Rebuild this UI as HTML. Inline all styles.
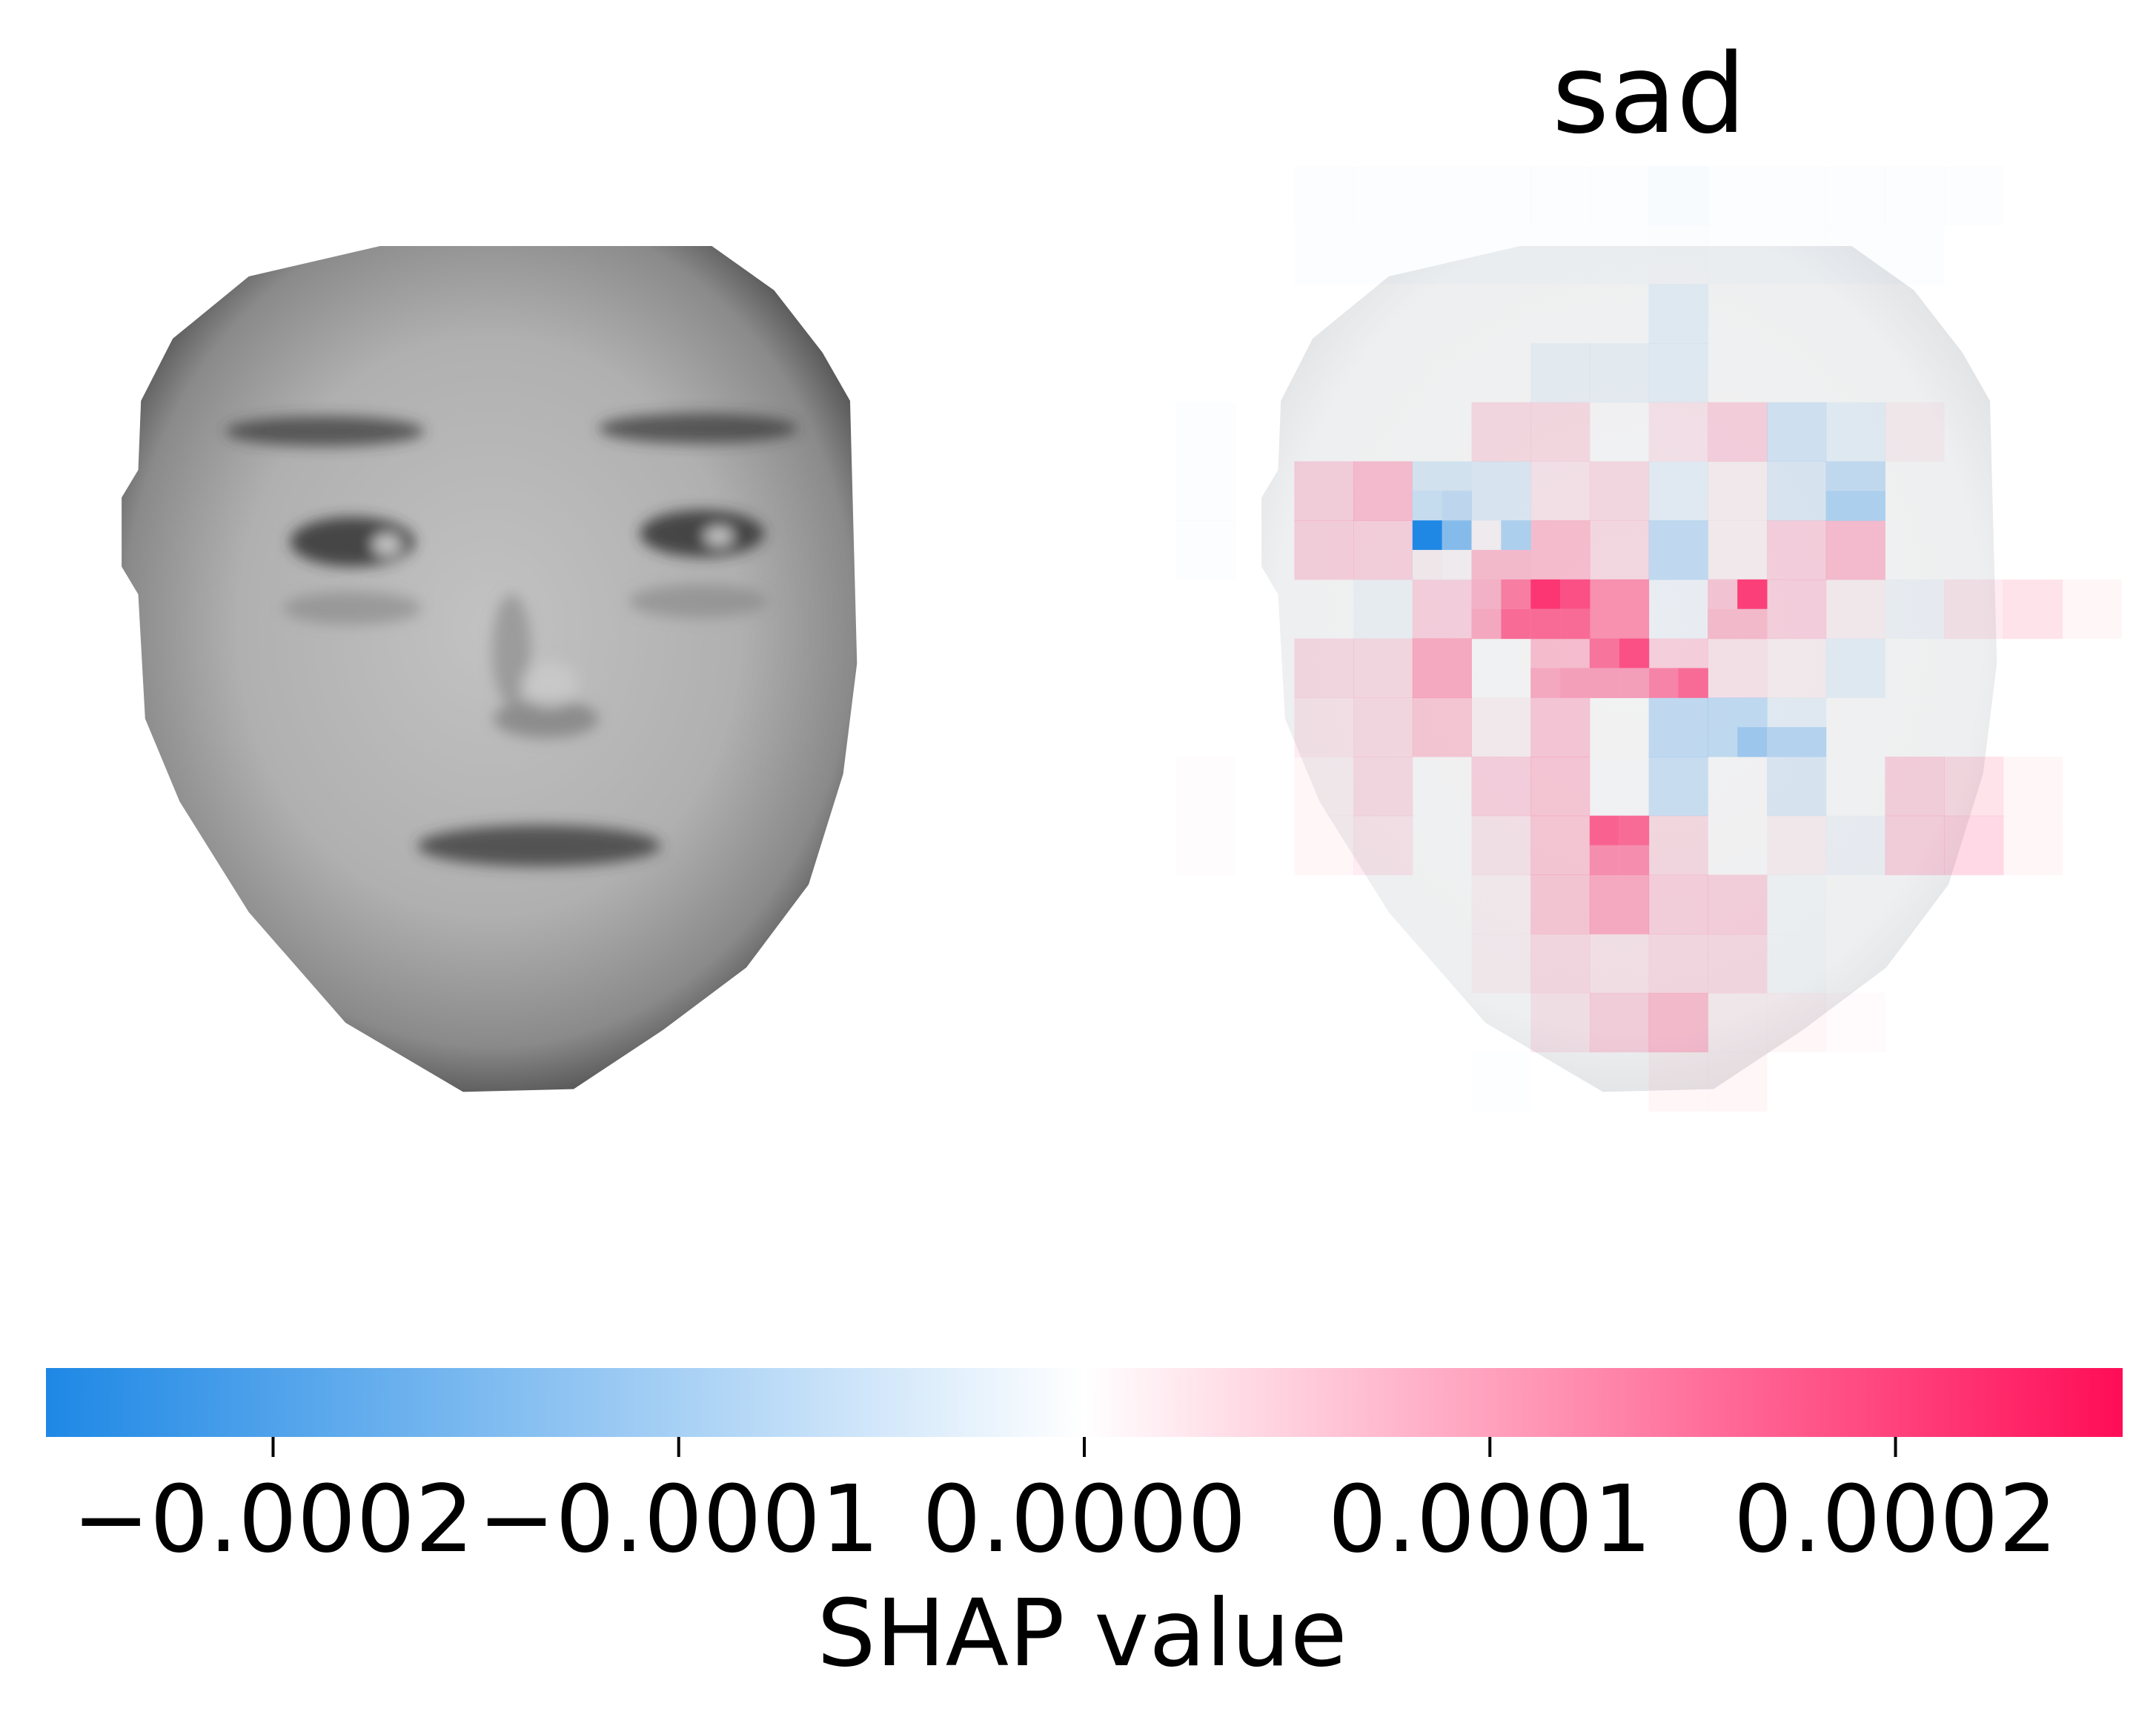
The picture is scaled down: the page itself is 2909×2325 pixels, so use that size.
<!DOCTYPE html>
<html><head><meta charset="utf-8"><style>
html,body{margin:0;padding:0;background:#fff;}
svg{display:block;}
text{font-family:"DejaVu Sans","Liberation Sans",sans-serif;fill:#000;}
</style></head><body>
<svg id="chart" width="2909" height="2325" viewBox="0 0 2909 2325" xmlns="http://www.w3.org/2000/svg">
<defs>
  <radialGradient id="faceGrad" cx="0.5" cy="0.45" r="0.62">
    <stop offset="0" stop-color="#c2c2c2"/>
    <stop offset="0.55" stop-color="#b0b0b0"/>
    <stop offset="0.8" stop-color="#8a8a8a"/>
    <stop offset="1" stop-color="#2a2a2a"/>
  </radialGradient>
  <radialGradient id="faceGrad2" cx="0.5" cy="0.45" r="0.6">
    <stop offset="0" stop-color="#f2f2f3"/>
    <stop offset="0.8" stop-color="#eeeff0"/>
    <stop offset="1" stop-color="#dcdee0"/>
  </radialGradient>
  <filter id="blur2"><feGaussianBlur stdDeviation="5"/></filter>
  <linearGradient id="cbGrad" x1="0" x2="1" y1="0" y2="0">
    <stop offset="0" stop-color="#1E88E5"/>
    <stop offset="0.5" stop-color="#ffffff"/>
    <stop offset="1" stop-color="#FF0D57"/>
  </linearGradient>
  <path id="faceShape" d="M275,178 L515,178 L560,210 L595,255 L615,290 L620,480 L610,560 L585,640 L540,700 L480,745 L415,788 L335,790 L250,740 L180,660 L130,580 L105,520 L100,430 L88,410 L88,360 L100,340 L102,290 L125,245 L180,200 Z"/>
  <clipPath id="faceClip"><use href="#faceShape"/></clipPath>
</defs>

<g transform="scale(1.865)">
  <use href="#faceShape" fill="url(#faceGrad)"/>
  <g clip-path="url(#faceClip)" filter="url(#blur2)">
    <ellipse cx="235" cy="312" rx="72" ry="11" fill="#3a3a3a" opacity="0.75"/>
    <ellipse cx="505" cy="310" rx="72" ry="11" fill="#3a3a3a" opacity="0.75"/>
    <ellipse cx="255" cy="392" rx="45" ry="18" fill="#333" opacity="0.85"/>
    <ellipse cx="508" cy="386" rx="45" ry="17" fill="#333" opacity="0.85"/>
    <ellipse cx="280" cy="394" rx="10" ry="7" fill="#c8c8c8"/>
    <ellipse cx="520" cy="388" rx="10" ry="6" fill="#c8c8c8"/>
    <ellipse cx="255" cy="440" rx="50" ry="12" fill="#7a7a7a" opacity="0.5"/>
    <ellipse cx="505" cy="435" rx="50" ry="12" fill="#7a7a7a" opacity="0.5"/>
    <ellipse cx="370" cy="470" rx="14" ry="40" fill="#777" opacity="0.5"/>
    <ellipse cx="395" cy="520" rx="38" ry="14" fill="#666" opacity="0.55"/>
    <ellipse cx="398" cy="495" rx="20" ry="16" fill="#cacaca" opacity="0.8"/>
    <ellipse cx="390" cy="612" rx="88" ry="15" fill="#3c3c3c" opacity="0.8"/>
  </g>
</g>

<g transform="translate(1538,0) scale(1.865)">
  <use href="#faceShape" fill="url(#faceGrad2)"/>
</g>
<g id="heat"></g>

<text x="2225" y="178" font-size="148" text-anchor="middle">sad</text>

<g id="cbar">
  <rect x="62" y="1846" width="2802" height="93" fill="url(#cbGrad)"/>
</g>
<text x="1460" y="2247" font-size="125" text-anchor="middle">SHAP value</text>

<script>
// SHAP values in units of 1e-4, 16x16 coarse grid (rows top->bottom)
const gridRows = 16;
const gridCols = 16;
const coarseValues = [
 [0,0,-0.05,-0.05,-0.05,-0.05,-0.05,-0.05,-0.08,-0.05,-0.05,-0.05,-0.05,-0.05,0,0],
 [0,0,-0.04,-0.04,-0.04,-0.04,-0.04,-0.04,-0.06,-0.04,-0.04,-0.04,-0.04,0,0,0],
 [0,0,0,0,0,0,0,0,-0.2,0,0,0,0,0,0,0],
 [0,0,0,0,0,0,-0.15,-0.15,-0.2,0,0,0,0,0,0,0],
 [-0.05,0,0,0,0,0.3,0.3,0,0.2,0.4,-0.4,-0.2,0.1,0,0,0],
 [-0.05,0,0.4,0.6,-0.45,-0.3,0.2,0.3,-0.2,0.1,-0.3,-0.8,0,0,0,0],
 [-0.05,0,0.4,0.4,-1.3,-0.4,0.6,0.3,-0.6,0.1,0.4,0.6,0,0,0,0],
 [0,0,0,-0.1,0.4,1.1,1.8,1.1,-0.1,1.0,0.4,0.1,-0.1,0.2,0.3,0.1],
 [0,0,0.3,0.3,0.8,0,0.6,1.5,0.4,0.2,0.1,-0.2,0,0,0,0],
 [0,0,0.2,0.3,0.5,0.1,0.5,0,-0.6,-0.6,-0.2,0,0,0,0,0],
 [0.03,0,0.1,0.3,0,0.4,0.5,0,-0.5,0,-0.3,0,0.4,0.3,0.1,0],
 [0.03,0,0.1,0.2,0,0.2,0.5,1.3,0.3,0,0.1,-0.1,0.4,0.4,0.1,0],
 [0,0,0,0,0,0.1,0.5,0.8,0.4,0.4,-0.05,0,0,0,0,0],
 [0,0,0,0,0,0.1,0.3,0.2,0.3,0.3,-0.05,0,0,0,0,0],
 [0,0,0,0,0,0,0.2,0.4,0.6,0.1,0.1,0.05,0,0,0,0],
 [0,0,0,0,0,-0.02,0,0,0.1,0.1,0,0,0,0,0,0]
];
// finer half-cell overrides (half-row index, half-col index, value)
const fineRows = [10,10,10,10, 11,11,11,11, 12,12,12,12, 13,13,13,13, 14,14,14,14,14,14, 15,15,15,15,15,15, 16,16, 17,17,17,17,17,17, 19,19,19, 22,22, 23,23];
const fineCols = [8,9,22,23, 8,9,22,23, 8,9,10,11, 8,9,10,11, 10,11,12,13,18,19, 10,11,12,13,18,19, 14,15, 16,17,12,13,14,15, 19,20,21, 14,15, 14,15];
const fineValues = [-0.35,-0.35,-0.55,-0.55, -0.5,-0.6,-0.8,-0.8, -2.55,-1.3,0.05,-0.8, 0.1,0.05,0.6,0.6, 0.7,1.3,2.1,1.8,0.5,2.0, 0.8,1.5,1.5,1.5,0.6,0.6, 1.4,1.8, 1.2,1.5,0.8,0.9,0.9,0.9, -1.0,-0.7,-0.7, 1.6,1.5, 1.1,1.1];
// colorbar
const tickValues = [-2,-1,0,1,2];
const tickLabels = ["\u22120.0002","\u22120.0001","0.0000","0.0001","0.0002"];
const vMin = -2.56, vMax = 2.56;

const NS = "http://www.w3.org/2000/svg";
const x0 = 1587, y0 = 224, cell = 79.7;
const cbX0 = 62, cbX1 = 2864;
function xScale(v){ return cbX0 + (v - vMin) / (vMax - vMin) * (cbX1 - cbX0); }
function color(v){
  const a = Math.min(1, Math.abs(v) / vMax);
  return v >= 0 ? `rgba(255,13,87,${a})` : `rgba(30,136,229,${a})`;
}
const heat = document.getElementById('heat');
for (let r = 0; r < gridRows; r++) {
  for (let c = 0; c < gridCols; c++) {
    const v = coarseValues[r][c];
    if (v === 0) continue;
    const el = document.createElementNS(NS, 'rect');
    
    
    el.setAttribute('x', x0 + c * cell);
    el.setAttribute('y', y0 + r * cell);
    el.setAttribute('width', cell + 0.5);
    el.setAttribute('height', cell + 0.5);
    el.setAttribute('fill', color(v));
    heat.appendChild(el);
  }
}
const h = cell / 2;
for (let i = 0; i < fineValues.length; i++) {
  const r = fineRows[i], c = fineCols[i], v = fineValues[i];
  const bx = x0 + c * h, by = y0 + r * h;
  const bg = document.createElementNS(NS, 'rect');
  
  
  bg.setAttribute('x', bx); bg.setAttribute('y', by);
  bg.setAttribute('width', h + 0.5); bg.setAttribute('height', h + 0.5);
  bg.setAttribute('fill', '#eeeff0');
  heat.appendChild(bg);
  const el = document.createElementNS(NS, 'rect');
  
  
  el.setAttribute('x', bx); el.setAttribute('y', by);
  el.setAttribute('width', h + 0.5); el.setAttribute('height', h + 0.5);
  el.setAttribute('fill', color(v));
  heat.appendChild(el);
}
const cbar = document.getElementById('cbar');
for (let i = 0; i < tickValues.length; i++) {
  const x = xScale(tickValues[i]);
  const t = document.createElementNS(NS, 'line');
  
  
  t.setAttribute('x1', x); t.setAttribute('x2', x);
  t.setAttribute('y1', 1939); t.setAttribute('y2', 1966);
  t.setAttribute('stroke', '#000'); t.setAttribute('stroke-width', 4);
  cbar.appendChild(t);
  const tx = document.createElementNS(NS, 'text');
  
  
  tx.setAttribute('x', x); tx.setAttribute('y', 2093);
  tx.setAttribute('font-size', 125);
  tx.setAttribute('text-anchor', 'middle');
  tx.textContent = tickLabels[i];
  cbar.appendChild(tx);
}
</script>
</svg>
</body></html>
